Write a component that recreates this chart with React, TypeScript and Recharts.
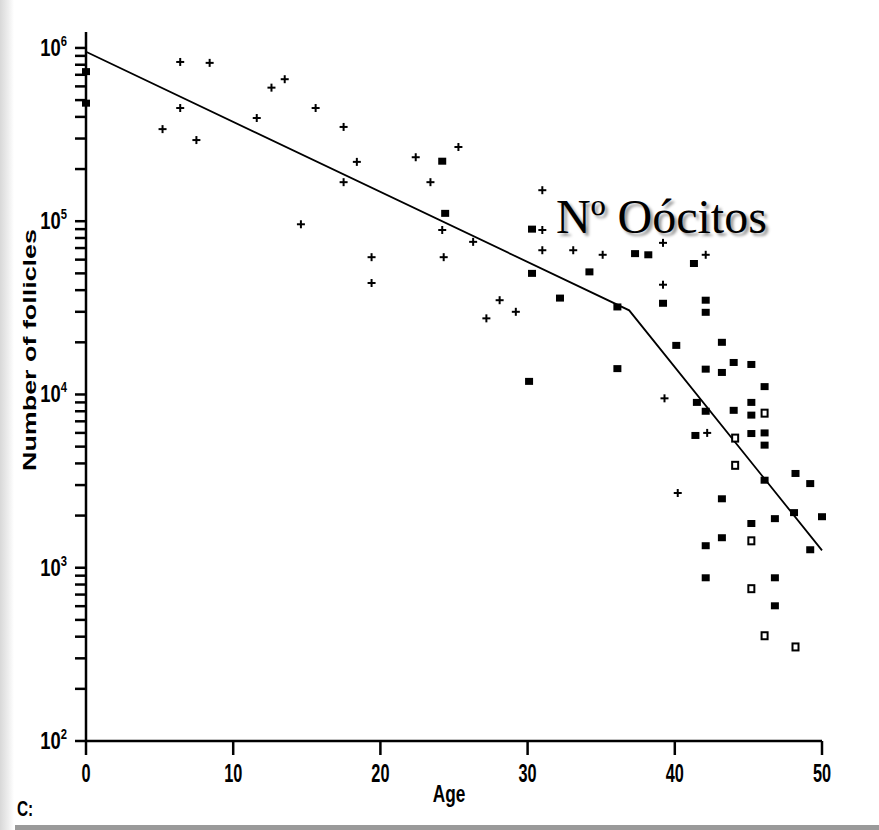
import React from 'react';
import { ScatterChart, Scatter, XAxis, YAxis } from 'recharts';

// age (years) vs number of follicles
const plusPoints: [number, number][] = [
  [6.4, 8.3e5], [8.4, 8.2e5], [6.4, 4.5e5], [5.2, 3.4e5], [7.5, 2.94e5],
  [11.6, 3.94e5], [12.6, 5.9e5], [13.5, 6.6e5], [14.6, 9.6e4], [15.6, 4.5e5],
  [17.5, 3.5e5], [18.4, 2.2e5], [17.5, 1.68e5], [22.4, 2.34e5], [25.3, 2.68e5],
  [23.4, 1.68e5], [24.2, 8.9e4], [19.4, 6.2e4], [19.4, 4.4e4], [24.3, 6.2e4],
  [31.0, 1.51e5], [31.0, 8.9e4], [31.0, 6.8e4], [33.1, 6.8e4], [26.3, 7.6e4],
  [28.1, 3.5e4], [29.2, 3.0e4], [27.2, 2.75e4], [35.1, 6.4e4], [39.2, 7.5e4],
  [39.2, 4.3e4], [39.3, 9.5e3], [42.2, 6.0e3], [40.2, 2.7e3], [42.1, 6.4e4],
];
const filledPoints: [number, number][] = [
  [0, 7.3e5], [0, 4.8e5], [24.2, 2.22e5], [24.4, 1.11e5], [30.3, 9.0e4],
  [30.3, 5.0e4], [34.2, 5.1e4], [37.3, 6.5e4], [38.2, 6.4e4], [41.3, 5.7e4],
  [39.2, 3.36e4], [42.1, 3.5e4], [42.1, 2.98e4], [36.1, 3.2e4], [32.2, 3.6e4],
  [40.1, 1.92e4], [43.2, 2.0e4], [36.1, 1.41e4], [30.1, 1.19e4], [42.1, 1.4e4],
  [43.2, 1.34e4], [44.0, 1.53e4], [45.2, 1.49e4], [46.1, 1.11e4], [41.5, 9.0e3],
  [42.1, 8.0e3], [44.0, 8.1e3], [45.2, 9.0e3], [45.2, 7.6e3], [41.4, 5.8e3],
  [45.2, 5.95e3], [46.1, 6.0e3], [46.1, 5.1e3], [46.1, 3.2e3], [48.2, 3.5e3],
  [49.2, 3.06e3], [43.2, 2.5e3], [46.8, 1.92e3], [45.2, 1.8e3], [48.1, 2.08e3],
  [50.0, 1.97e3], [49.2, 1.27e3], [43.2, 1.49e3], [42.1, 1.34e3], [42.1, 875],
  [46.8, 875], [46.8, 603],
];
const openPoints: [number, number][] = [
  [46.1, 7.8e3], [44.1, 5.6e3], [44.1, 3.9e3], [45.2, 1.43e3], [45.2, 757],
  [46.1, 405], [48.2, 349],
];
// fitted two-segment decline
const fitAges = [0, 36.9, 50];
const fitCounts = [9.5e5, 3.06e4, 1.26e3];

const xTicks = [0, 10, 20, 30, 40, 50];
const decades = [100, 1000, 10000, 100000, 1000000];

const toData = (pts: [number, number][]) => pts.map(([x, y]) => ({ x, y }));
const fitData = fitAges.map((x, i) => ({ x, y: fitCounts[i] }));

const yTicks: number[] = [];
decades.slice(0, 4).forEach((d) => {
  for (let m = 1; m < 10; m++) yTicks.push(d * m);
});
yTicks.push(1000000);

const PlusShape = (p: any) => (
  <g stroke="#000" strokeWidth={2}>
    <line x1={p.cx - 4} y1={p.cy} x2={p.cx + 4} y2={p.cy} />
    <line x1={p.cx} y1={p.cy - 4} x2={p.cx} y2={p.cy + 4} />
  </g>
);
const FilledShape = (p: any) => <rect x={p.cx - 4} y={p.cy - 3.5} width={8} height={7} fill="#000" />;
const OpenShape = (p: any) => (
  <rect x={p.cx - 3} y={p.cy - 3.5} width={6} height={7} fill="#fff" stroke="#000" strokeWidth={2} />
);

const narrow = "'Liberation Sans', Arial, sans-serif";

const YTick = (props: any) => {
  const { x, y, payload } = props;
  const exp = Math.round(Math.log10(payload.value));
  if (Math.pow(10, exp) !== payload.value) return <g />;
  return (
    <g transform={`translate(${x - 6},${y + 8}) scale(0.8,1)`}>
      <text textAnchor="end" fontFamily={narrow} fontWeight="bold" fontSize={23} fill="#000">
        10<tspan dy={-10} fontSize={14}>{exp}</tspan>
      </text>
    </g>
  );
};

const XTick = (props: any) => {
  const { x, y, payload } = props;
  return (
    <g transform={`translate(${x},${y + 25}) scale(0.68,1.1)`}>
      <text textAnchor="middle" fontFamily={narrow} fontWeight="bold" fontSize={24} fill="#000">
        {payload.value}
      </text>
    </g>
  );
};

const YLabel = () => (
  <text
    x={0}
    y={0}
    transform="translate(36,350) rotate(-90)"
    textAnchor="middle"
    fontFamily={narrow}
    fontWeight="bold"
    fontSize={19}
    textLength={242}
    lengthAdjust="spacingAndGlyphs"
    fill="#000"
  >
    Number of follicles
  </text>
);

const XLabel = () => (
  <g transform="translate(449,802) scale(0.75,1)">
    <text textAnchor="middle" fontFamily={narrow} fontWeight="bold" fontSize={23} fill="#000">
      Age
    </text>
  </g>
);

export default function App() {
  return (
    <div style={{ position: 'absolute', left: 0, top: 0, width: 879, height: 830, background: '#fff', overflow: 'hidden' }}>
      <div
        style={{
          position: 'absolute', left: 0, top: 0, width: 14, height: 830,
          background: 'linear-gradient(to right, #d8d8d8, #eeeeee 60%, #fff)',
        }}
      />
      <ScatterChart width={879} height={830} margin={{ top: 32, right: 57, bottom: 29, left: 0 }}>
        <XAxis
          type="number"
          dataKey="x"
          domain={[0, 50]}
          ticks={xTicks}
          height={60}
          stroke="#000"
          strokeWidth={2.5}
          tickSize={14}
          tick={<XTick />}
          label={<XLabel />}
        />
        <YAxis
          type="number"
          dataKey="y"
          scale="log"
          domain={[100, 1236000]}
          allowDataOverflow
          ticks={yTicks}
          interval={0}
          width={86}
          stroke="#000"
          strokeWidth={2.5}
          tickSize={11}
          tick={<YTick />}
          label={<YLabel />}
        />
        <Scatter
          data={fitData}
          line={{ stroke: '#000', strokeWidth: 1.8 }}
          shape={() => <g />}
          isAnimationActive={false}
        />
        <Scatter data={toData(plusPoints)} shape={<PlusShape />} isAnimationActive={false} />
        <Scatter data={toData(filledPoints)} shape={<FilledShape />} isAnimationActive={false} />
        <Scatter data={toData(openPoints)} shape={<OpenShape />} isAnimationActive={false} />
      </ScatterChart>
      <div
        style={{
          position: 'absolute', left: 556, top: 188, fontFamily: "'Liberation Serif', 'Times New Roman', serif",
          fontSize: 48, color: '#000', textShadow: '3px 3px 3px #9a9a9a', whiteSpace: 'nowrap', lineHeight: '58px',
        }}
      >
        Nº Oócitos
      </div>
      <div
        style={{
          position: 'absolute', left: 17, top: 796, fontFamily: narrow, fontWeight: 'bold', fontSize: 22, color: '#000',
          transform: 'scaleX(0.7)', transformOrigin: 'left top',
        }}
      >
        C:
      </div>
      <div style={{ position: 'absolute', left: 15, top: 825, width: 864, height: 5, background: '#9a9a9a' }} />
    </div>
  );
}
